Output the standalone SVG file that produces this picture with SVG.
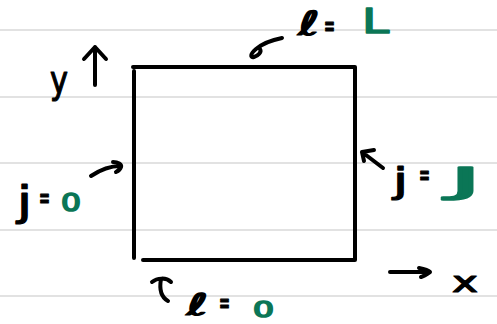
<svg xmlns="http://www.w3.org/2000/svg" width="497" height="324" viewBox="0 0 497 324">
<style>
.rule{stroke:#d9d9d9;stroke-width:1.5;fill:none}
.ink{stroke:#000;stroke-width:4;fill:none;stroke-linecap:round;stroke-linejoin:round}
.t{font-family:"DejaVu Sans","Liberation Sans",sans-serif;fill:#000;stroke:#000;stroke-width:1.2;stroke-linejoin:round}
.g{fill:#0b7656;stroke:#0b7656;stroke-width:1.6}
.eq{font-size:24px;font-weight:bold}
</style>
<rect width="497" height="324" fill="#fff"/>
<g id="paper">
<path class="rule" d="M0,30H497M0,97H497M0,163H497M0,230H497M0,296H497"/>
</g>
<g id="box">
<path class="ink" d="M133,67H355V260M143,260H355M134,71V258"/>
</g>
<g id="connectors">
<path class="ink" d="M95,85V47M84,59L95,47L106,59"/>
<path class="ink" d="M282,38C272,40 262,44 256,49C250,54 250,58 254,57C258,56 262,52 260,49"/>
<path class="ink" d="M91,176C100,170 110,166 120,166M113,162C118,162 122,164 121,167C120,170 118,171 116,172"/>
<path class="ink" d="M383,168L362,152M362,152L374,150M362,152L364,161"/>
<path class="ink" d="M168,301C161,297 159,290 161,279M152,282C157,278 166,277 171,282"/>
<path class="ink" d="M390,272H428M419,268C424,269 428,270 430,272C427,274 424,276 421,277"/>
</g>
<g id="label-y"><text class="t" x="50" y="93" font-size="38" textLength="18" lengthAdjust="spacingAndGlyphs">y</text></g>
<g id="label-top">
<text class="t" x="298" y="35" font-size="33" textLength="22" lengthAdjust="spacingAndGlyphs">ℓ</text>
<text class="t eq" x="324" y="35" textLength="11" lengthAdjust="spacingAndGlyphs">=</text>
<text class="t g" x="362" y="33" font-size="34" textLength="27" lengthAdjust="spacingAndGlyphs">L</text>
</g>
<g id="label-left">
<text class="t" x="17" y="215" font-size="40" textLength="15" lengthAdjust="spacingAndGlyphs">j</text>
<text class="t eq" x="39" y="207" textLength="11" lengthAdjust="spacingAndGlyphs">=</text>
<text class="t g" x="61" y="211" font-size="24" textLength="20" lengthAdjust="spacingAndGlyphs">0</text>
</g>
<g id="label-right">
<text class="t" x="393" y="193" font-size="36" textLength="15" lengthAdjust="spacingAndGlyphs">j</text>
<text class="t eq" x="419" y="184" textLength="11" lengthAdjust="spacingAndGlyphs">=</text>
<text class="t g" x="449" y="193" font-size="36" textLength="33" lengthAdjust="spacingAndGlyphs">J</text>
</g>
<g id="label-bottom">
<text class="t" x="186" y="315" font-size="30" textLength="22" lengthAdjust="spacingAndGlyphs">ℓ</text>
<text class="t eq" x="219" y="312" textLength="11" lengthAdjust="spacingAndGlyphs">=</text>
<text class="t g" x="253" y="317" font-size="21" textLength="21" lengthAdjust="spacingAndGlyphs">0</text>
</g>
<g id="label-x"><text class="t" x="452" y="292" font-size="28" textLength="26" lengthAdjust="spacingAndGlyphs">x</text></g>
</svg>
